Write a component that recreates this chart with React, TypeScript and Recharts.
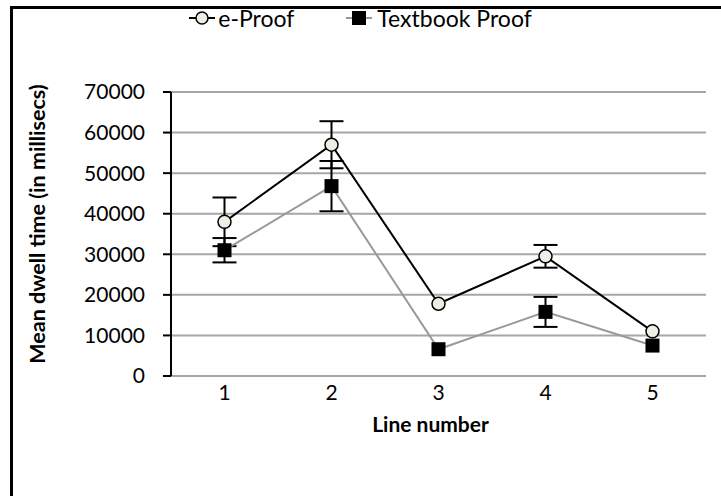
import { LineChart, Line, XAxis, YAxis, CartesianGrid, ErrorBar, Legend } from "recharts";

const lineNumbers = [1, 2, 3, 4, 5];
const eProof = [38000, 57000, 17800, 29500, 11000];
const eProofErr = [6000, 5800, null, 2800, null];
const textbook = [31000, 46800, 6600, 15800, 7500];
const textbookErr = [3000, 6200, null, 3700, null];
const yTicks = [0, 10000, 20000, 30000, 40000, 50000, 60000, 70000];
const boundaryTicks = [0.5, 1.5, 2.5, 3.5, 4.5, 5.5];

const data = lineNumbers.map((n, i) => ({
  line: n,
  eProof: eProof[i],
  eProofErr: eProofErr[i],
  textbook: textbook[i],
  textbookErr: textbookErr[i],
}));

const FONT = "Lato, 'Open Sans', sans-serif";
const CIRCLE_FILL = "#eeeee4";

const SquareDot = (props: any) => {
  const { cx, cy, index } = props;
  if (cx == null || cy == null) return null;
  return <rect key={`sq-${index}`} x={cx - 7} y={cy - 7} width={14} height={14} fill="#000" />;
};

const renderLegend = () => (
  <div
    style={{
      display: "flex",
      justifyContent: "center",
      alignItems: "center",
      fontFamily: FONT,
      fontSize: 23,
      color: "#000",
    }}
  >
    <span style={{ display: "flex", alignItems: "center", marginRight: 52 }}>
      <svg width={26} height={16} style={{ marginRight: 3 }}>
        <line x1={0} y1={8} x2={26} y2={8} stroke="#000" strokeWidth={2} />
        <circle cx={13} cy={8} r={6} fill={CIRCLE_FILL} stroke="#000" strokeWidth={1.5} />
      </svg>
      e-Proof
    </span>
    <span style={{ display: "flex", alignItems: "center" }}>
      <svg width={26} height={16} style={{ marginRight: 5 }}>
        <line x1={0} y1={8} x2={26} y2={8} stroke="#999" strokeWidth={2} />
        <rect x={6} y={1} width={14} height={14} fill="#000" />
      </svg>
      Textbook Proof
    </span>
  </div>
);

export default function App() {
  return (
    <div style={{ position: "absolute", left: 0, top: 0, width: 721, height: 496, background: "#fff" }}>
      <div
        style={{
          position: "absolute",
          left: 10,
          top: 6,
          width: 720,
          height: 500,
          borderTop: "3px solid #000",
          borderLeft: "3px solid #000",
        }}
      />
      <LineChart
        width={721}
        height={496}
        data={data}
        margin={{ top: 92, right: 15, bottom: 90, left: 0 }}
        style={{ position: "absolute", left: 0, top: 0 }}
      >
        <CartesianGrid vertical={false} stroke="#a6a6a6" strokeWidth={2} />
        <XAxis
          xAxisId="bounds"
          dataKey="line"
          type="number"
          domain={[0.5, 5.5]}
          ticks={boundaryTicks}
          tick={false}
          height={0}
          stroke="#a6a6a6"
          strokeWidth={2}
          tickSize={7}
        />
        <XAxis
          xAxisId="labels"
          dataKey="line"
          type="number"
          domain={[0.5, 5.5]}
          ticks={lineNumbers}
          axisLine={false}
          tickLine={false}
          height={30}
          tickMargin={3}
          tick={{ fill: "#000", fontFamily: FONT, fontSize: 21 }}
          label={{
            value: "Line number",
            position: "bottom",
            offset: 11,
            dx: -8,
            fill: "#000",
            fontFamily: FONT,
            fontSize: 21,
            fontWeight: "bold",
          }}
        />
        <YAxis
          domain={[0, 70000]}
          ticks={yTicks}
          width={171}
          stroke="#000"
          strokeWidth={2}
          tickSize={8}
          tickMargin={18}
          tick={{ fill: "#000", fontFamily: FONT, fontSize: 21 }}
          label={{
            value: "Mean dwell time (in millisecs)",
            angle: -90,
            position: "center",
            dx: -48,
            dy: -10,
            fill: "#000",
            fontFamily: FONT,
            fontSize: 21.5,
            fontWeight: "bold",
          }}
        />
        <Legend
          content={renderLegend}
          layout="horizontal"
          verticalAlign="middle"
          align="center"
          wrapperStyle={{ top: 4, left: 0, width: 721 }}
        />
        <Line
          xAxisId="bounds"
          dataKey="eProof"
          name="e-Proof"
          stroke="#000"
          strokeWidth={2}
          dot={{ r: 6.5, fill: CIRCLE_FILL, stroke: "#000", strokeWidth: 1.5 }}
          isAnimationActive={false}
        >
          <ErrorBar dataKey="eProofErr" width={12} stroke="#000" strokeWidth={2} direction="y" />
        </Line>
        <Line
          xAxisId="bounds"
          dataKey="textbook"
          name="Textbook Proof"
          stroke="#999"
          strokeWidth={2}
          dot={SquareDot}
          isAnimationActive={false}
        >
          <ErrorBar dataKey="textbookErr" width={12} stroke="#000" strokeWidth={2} direction="y" />
        </Line>
      </LineChart>
    </div>
  );
}
